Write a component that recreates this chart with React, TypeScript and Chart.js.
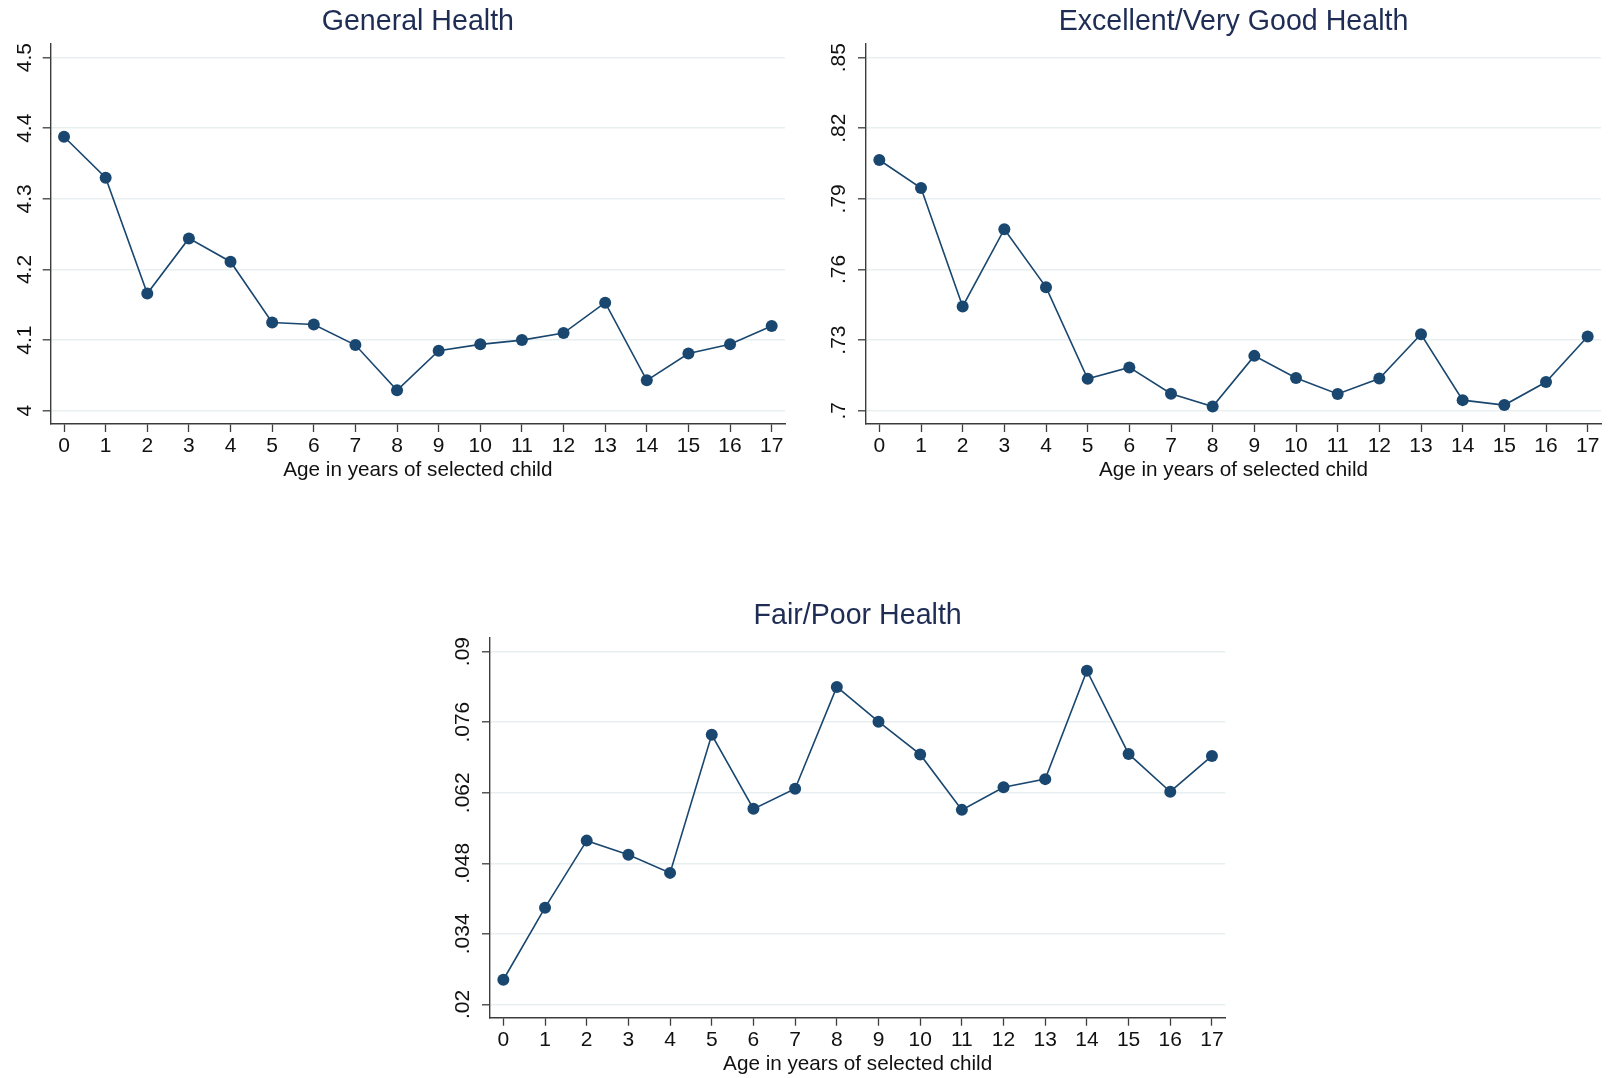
import React, { useEffect, useRef } from "react";
import { Chart, registerables } from "chart.js";

Chart.register(...registerables);

// ---------- data ----------
const ages = [0, 1, 2, 3, 4, 5, 6, 7, 8, 9, 10, 11, 12, 13, 14, 15, 16, 17];

const generalHealth = [
  4.388, 4.33, 4.166, 4.244, 4.211, 4.125, 4.122, 4.093, 4.029, 4.085, 4.094, 4.1, 4.11, 4.153,
  4.043, 4.081, 4.094, 4.12,
];
const excellentHealth = [
  0.8065, 0.7946, 0.7443, 0.7771, 0.7525, 0.7136, 0.7184, 0.7072, 0.7018, 0.7233, 0.7139, 0.7071,
  0.7137, 0.7325, 0.7045, 0.7024, 0.7122, 0.7315,
];
const fairPoorHealth = [
  0.0249, 0.0392, 0.0525, 0.0497, 0.0461, 0.0735, 0.0588, 0.0628, 0.083, 0.0761, 0.0696, 0.0586,
  0.0631, 0.0647, 0.0862, 0.0697, 0.0622, 0.0693,
];

const generalTicks = [4, 4.1, 4.2, 4.3, 4.4, 4.5];
const generalTickLabels = ["4", "4.1", "4.2", "4.3", "4.4", "4.5"];
const excellentTicks = [0.7, 0.73, 0.76, 0.79, 0.82, 0.85];
const excellentTickLabels = [".7", ".73", ".76", ".79", ".82", ".85"];
const fairTicks = [0.02, 0.034, 0.048, 0.062, 0.076, 0.09];
const fairTickLabels = [".02", ".034", ".048", ".062", ".076", ".09"];

const xAxisTitle = "Age in years of selected child";

// ---------- styles ----------
const FONT = '"Liberation Sans", Arial, Helvetica, sans-serif';
const NAVY = "#1a476f";
const TITLE_COLOR = "#1f2d55";
const AXIS_COLOR = "#3c3c3c";
const GRID_COLOR = "#e7eff1";
const TEXT_COLOR = "#111111";

type PanelProps = {
  title: string;
  values: number[];
  ticks: number[];
  tickLabels: string[];
  labelPad: number;
  canvasLeft: number;
  canvasTop: number;
  canvasWidth: number;
  canvasHeight: number;
  areaLeft: number;
  areaRight: number;
  areaBottom: number;
};

function Panel(p: PanelProps) {
  const ref = useRef<HTMLCanvasElement | null>(null);

  useEffect(() => {
    if (!ref.current) return;
    const yW = 48;
    const xH = 60;
    const span = p.ticks[p.ticks.length - 1] - p.ticks[0];
    const yMin = p.ticks[0] - span * 0.0376;
    const yMax = p.ticks[p.ticks.length - 1] + span * 0.0385;

    const chart = new Chart(ref.current, {
      type: "line",
      data: {
        datasets: [
          {
            data: ages.map((a, i) => ({ x: a, y: p.values[i] })),
            borderColor: NAVY,
            borderWidth: 1.6,
            pointRadius: 6,
            pointBackgroundColor: NAVY,
            pointBorderWidth: 0,
            tension: 0,
            fill: false,
          },
        ],
      },
      options: {
        animation: false,
        responsive: false,
        devicePixelRatio: 1,
        layout: {
          padding: {
            left: p.areaLeft - p.canvasLeft - yW,
            right: p.canvasLeft + p.canvasWidth - p.areaRight,
            top: 0,
            bottom: p.canvasHeight - xH - (p.areaBottom - p.canvasTop),
          },
        },
        plugins: {
          legend: { display: false },
          tooltip: { enabled: false },
          title: {
            display: true,
            text: p.title,
            fullSize: false,
            color: TITLE_COLOR,
            font: { family: FONT, size: 28.6, weight: "normal" },
            padding: { top: 4.5, bottom: 5.2 },
          },
        },
        scales: {
          x: {
            type: "linear",
            min: -0.32,
            max: 17.32,
            afterBuildTicks: (s: any) => {
              s.ticks = ages.map((v) => ({ value: v }));
            },
            afterFit: (s: any) => {
              s.height = xH;
              s.paddingLeft = 0;
              s.paddingRight = 0;
            },
            ticks: {
              autoSkip: false,
              maxRotation: 0,
              minRotation: 0,
              padding: 1.5,
              color: TEXT_COLOR,
              font: { family: FONT, size: 21 },
              callback: (v: any) => String(v),
            },
            grid: {
              drawOnChartArea: false,
              drawTicks: true,
              tickLength: 8,
              tickColor: AXIS_COLOR,
              tickWidth: 1.3,
            },
            border: { display: true, color: AXIS_COLOR, width: 1.4 },
            title: {
              display: true,
              text: xAxisTitle,
              color: TEXT_COLOR,
              font: { family: FONT, size: 20.7 },
              padding: { top: 0, bottom: 1.2 },
            },
          },
          y: {
            type: "linear",
            min: yMin,
            max: yMax,
            afterBuildTicks: (s: any) => {
              s.ticks = p.ticks.map((v) => ({ value: v }));
            },
            afterFit: (s: any) => {
              s.width = yW;
              s.paddingTop = 0;
              s.paddingBottom = 0;
            },
            ticks: {
              autoSkip: false,
              minRotation: 90,
              maxRotation: 90,
              crossAlign: "center",
              padding: p.labelPad,
              color: TEXT_COLOR,
              font: { family: FONT, size: 21 },
              callback: (_v: any, i: number) => p.tickLabels[i],
            },
            grid: {
              color: GRID_COLOR,
              lineWidth: 1.6,
              drawTicks: true,
              tickLength: 8,
              tickColor: AXIS_COLOR,
              tickWidth: 1.3,
            },
            border: { display: true, color: AXIS_COLOR, width: 1.4 },
          },
        },
      } as any,
    });
    return () => chart.destroy();
  }, []);

  return (
    <canvas
      ref={ref}
      width={p.canvasWidth}
      height={p.canvasHeight}
      style={{
        position: "absolute",
        left: p.canvasLeft,
        top: p.canvasTop,
        width: p.canvasWidth,
        height: p.canvasHeight,
      }}
    />
  );
}

export default function App() {
  return (
    <div
      style={{
        position: "absolute",
        left: 0,
        top: 0,
        width: 1610,
        height: 1078,
        background: "#ffffff",
        overflow: "hidden",
      }}
    >
      <Panel
        title="General Health"
        values={generalHealth}
        ticks={generalTicks}
        tickLabels={generalTickLabels}
        labelPad={3}
        canvasLeft={0}
        canvasTop={0}
        canvasWidth={805}
        canvasHeight={490}
        areaLeft={50.7}
        areaRight={785}
        areaBottom={424}
      />
      <Panel
        title="Excellent/Very Good Health"
        values={excellentHealth}
        ticks={excellentTicks}
        tickLabels={excellentTickLabels}
        labelPad={4}
        canvasLeft={805}
        canvasTop={0}
        canvasWidth={805}
        canvasHeight={490}
        areaLeft={866}
        areaRight={1601}
        areaBottom={424}
      />
      <Panel
        title="Fair/Poor Health"
        values={fairPoorHealth}
        ticks={fairTicks}
        tickLabels={fairTickLabels}
        labelPad={-1.5}
        canvasLeft={440}
        canvasTop={594}
        canvasWidth={805}
        canvasHeight={484}
        areaLeft={490}
        areaRight={1225.3}
        areaBottom={1017.7}
      />
    </div>
  );
}
